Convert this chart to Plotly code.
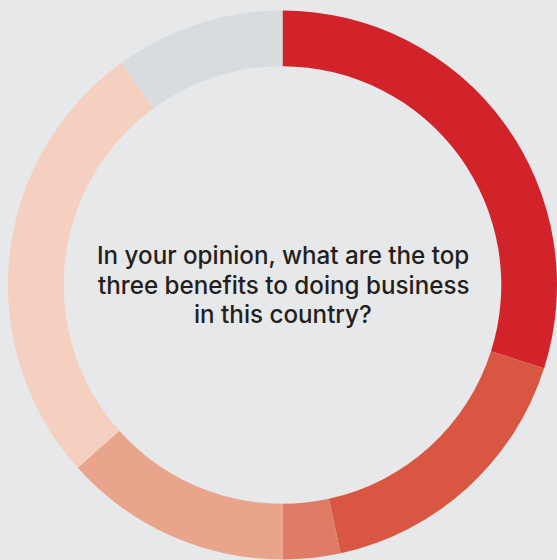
import plotly.graph_objects as go

# Share of responses per benefit (slices run clockwise from 12 o'clock)
categories = ["Benefit A", "Benefit B", "Benefit C", "Benefit D", "Benefit E", "Other"]
shares = [29.9, 16.7, 3.4, 13.4, 26.6, 10.0]
colors = ["#d2232b", "#d95742", "#e07b65", "#e9a48c", "#f5cfc0", "#d9dcdf"]

question_lines = [
    "In your opinion, what are the top",
    "three benefits to doing business",
    "in this country?",
]

W, H = 557, 560

fig = go.Figure(
    go.Pie(
        labels=categories,
        values=shares,
        marker=dict(colors=colors, line=dict(width=0)),
        hole=0.797,
        sort=False,
        direction="clockwise",
        rotation=0,
        textinfo="none",
        hoverinfo="label+percent",
        domain=dict(x=[8 / W, 1], y=[0, 1 - 10 / H]),
        showlegend=False,
    )
)

# Centre caption, one annotation per line for tight line spacing
for i, line in enumerate(question_lines):
    fig.add_annotation(
        x=283 / W, y=1 - (256 + 29 * i) / H, xref="paper", yref="paper",
        text=line, showarrow=False, align="center",
        xanchor="center", yanchor="middle",
        font=dict(family="Inter", size=24.2, color="#231f20", weight=500),
    )

fig.update_layout(
    width=W, height=H,
    margin=dict(l=0, r=0, t=0, b=0),
    paper_bgcolor="#e7e8e9",
    plot_bgcolor="#e7e8e9",
)

fig.write_html("out.html")
